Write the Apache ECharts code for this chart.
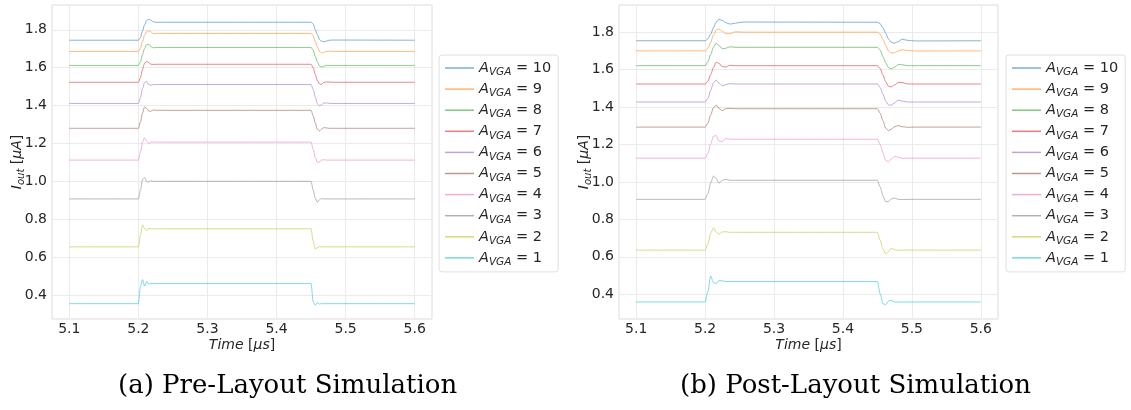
<!DOCTYPE html>
<html>
<head>
<meta charset="utf-8">
<script src="https://cdn.jsdelivr.net/npm/echarts@6/dist/echarts.min.js"></script>
<style>html,body{margin:0;padding:0;background:#fff}#c{width:1131px;height:410px}</style>
</head>
<body>
<div id="c"></div>
<script>
// ---- data ----
const gains = [10, 9, 8, 7, 6, 5, 4, 3, 2, 1];
const colors = ['#1f77b4','#ff7f0e','#2ca02c','#d62728','#9467bd','#8c564b','#e377c2','#7f7f7f','#bcbd22','#17becf'];
const xTicks = [5.1, 5.2, 5.3, 5.4, 5.5, 5.6];
const yTicks = [0.4, 0.6, 0.8, 1.0, 1.2, 1.4, 1.6, 1.8];
const captionA = '(a) Pre-Layout Simulation';
const captionB = '(b) Post-Layout Simulation';

// Pre-layout time points (µs)
const preTime = [5.1, 5.2,5.203,5.206,5.209,5.212,5.215,5.218,5.222,5.226,5.232, 5.45,5.453,5.456,5.459,5.462,5.465,5.468,5.472,5.476,5.482, 5.6];
const pre10 = [1.745, 1.745,1.759,1.793,1.826,1.848,1.855,1.851,1.842,1.839,1.840, 1.840,1.831,1.802,1.774,1.750,1.740,1.737,1.740,1.745,1.746, 1.745];
const pre9  = [1.686, 1.686,1.703,1.738,1.772,1.791,1.795,1.789,1.780,1.781,1.781, 1.781,1.770,1.738,1.710,1.686,1.678,1.680,1.686,1.687,1.686, 1.686];
const pre8  = [1.612, 1.612,1.631,1.669,1.702,1.721,1.724,1.712,1.705,1.707,1.707, 1.707,1.693,1.660,1.631,1.610,1.603,1.607,1.612,1.612,1.612, 1.612];
const pre7  = [1.523, 1.523,1.547,1.590,1.623,1.633,1.628,1.618,1.617,1.618,1.618, 1.618,1.599,1.566,1.533,1.515,1.512,1.521,1.525,1.524,1.523, 1.523];
const pre6  = [1.411, 1.411,1.441,1.491,1.521,1.528,1.511,1.507,1.511,1.511,1.511, 1.511,1.486,1.446,1.411,1.399,1.403,1.413,1.414,1.412,1.411, 1.411];
const pre5  = [1.280, 1.280,1.313,1.361,1.393,1.385,1.371,1.370,1.377,1.375,1.375, 1.375,1.347,1.309,1.275,1.266,1.275,1.283,1.282,1.280,1.280, 1.280];
const pre4  = [1.112, 1.112,1.155,1.207,1.230,1.212,1.200,1.207,1.208,1.207,1.207, 1.207,1.169,1.126,1.101,1.101,1.112,1.114,1.112,1.112,1.112, 1.112];
const pre3  = [0.907, 0.907,0.954,1.009,1.020,0.998,0.996,1.003,1.000,1.000,1.000, 1.000,0.954,0.912,0.890,0.902,0.909,0.907,0.907,0.907,0.907, 0.907];
const pre2  = [0.654, 0.654,0.716,0.770,0.751,0.741,0.751,0.750,0.749,0.749,0.749, 0.749,0.683,0.643,0.649,0.656,0.654,0.654,0.654,0.654,0.654, 0.654];
const pre1  = [0.354, 0.354,0.444,0.481,0.447,0.471,0.457,0.460,0.460,0.460,0.460, 0.460,0.365,0.346,0.359,0.352,0.354,0.354,0.354,0.354,0.354, 0.354];

// Post-layout time points (µs)
const postTime = [5.1, 5.2,5.204,5.208,5.212,5.216,5.22,5.225,5.23,5.236,5.244,5.255, 5.45,5.454,5.458,5.462,5.466,5.47,5.475,5.48,5.486,5.494,5.505, 5.6];
const post10 = [1.754, 1.754,1.764,1.789,1.823,1.853,1.868,1.863,1.851,1.843,1.848,1.854, 1.853,1.845,1.823,1.794,1.764,1.746,1.741,1.749,1.762,1.756,1.753, 1.754];
const post9  = [1.700, 1.700,1.715,1.745,1.785,1.812,1.817,1.805,1.792,1.792,1.802,1.800, 1.800,1.790,1.762,1.730,1.700,1.688,1.690,1.700,1.706,1.702,1.699, 1.700];
const post8  = [1.621, 1.621,1.641,1.680,1.719,1.741,1.729,1.711,1.714,1.722,1.719,1.719, 1.719,1.704,1.670,1.636,1.611,1.604,1.613,1.627,1.626,1.621,1.621, 1.621];
const post7  = [1.523, 1.523,1.538,1.572,1.611,1.639,1.633,1.616,1.614,1.623,1.621,1.621, 1.621,1.606,1.572,1.535,1.511,1.507,1.518,1.531,1.531,1.523,1.523, 1.523];
const post6  = [1.427, 1.427,1.446,1.489,1.528,1.544,1.528,1.513,1.520,1.525,1.523,1.523, 1.523,1.504,1.470,1.432,1.411,1.410,1.422,1.437,1.432,1.427,1.427, 1.427];
const post5  = [1.293, 1.293,1.313,1.357,1.396,1.411,1.393,1.381,1.391,1.393,1.391,1.391, 1.391,1.367,1.327,1.288,1.274,1.281,1.295,1.301,1.295,1.292,1.293, 1.293];
const post4  = [1.127, 1.127,1.152,1.203,1.243,1.248,1.218,1.216,1.231,1.229,1.228,1.228, 1.228,1.198,1.157,1.115,1.107,1.122,1.137,1.132,1.126,1.127,1.127, 1.127];
const post3  = [0.907, 0.907,0.938,0.994,1.031,1.019,0.994,1.009,1.014,1.009,1.009,1.009, 1.009,0.973,0.927,0.895,0.895,0.909,0.914,0.907,0.906,0.907,0.907, 0.907];
const post2  = [0.636, 0.636,0.669,0.726,0.755,0.733,0.720,0.733,0.734,0.731,0.731,0.731, 0.731,0.688,0.641,0.615,0.627,0.646,0.639,0.635,0.636,0.636,0.636, 0.636];
const post1  = [0.359, 0.359,0.414,0.497,0.463,0.457,0.473,0.472,0.468,0.468,0.468,0.468, 0.468,0.403,0.350,0.344,0.364,0.368,0.359,0.358,0.359,0.359,0.359, 0.359];

const preSeries  = [pre10, pre9, pre8, pre7, pre6, pre5, pre4, pre3, pre2, pre1];
const postSeries = [post10, post9, post8, post7, post6, post5, post4, post3, post2, post1];

// ---- chart ----
const TXT = '#262626';
const FONT = 'DejaVu Sans';
const names = gains.map(g => 'A' + g);

function zip(t, v) { return t.map((x, i) => [x, v[i]]); }

function mkSeries(arrs, time, idx) {
  return arrs.map((v, i) => ({
    type: 'line', name: names[i], xAxisIndex: idx, yAxisIndex: idx,
    data: zip(time, v), symbol: 'none', smooth: 0.3, smoothMonotone: 'x',
    lineStyle: { width: 1, color: colors[i], opacity: 0.55 },
    itemStyle: { color: colors[i] },
    emphasis: { disabled: true }, animation: false
  }));
}

const legendRich = {
  a: { fontFamily: FONT, fontSize: 14.5, fontStyle: 'italic', color: TXT, lineHeight: 21 },
  s: { fontFamily: FONT, fontSize: 10.5, fontStyle: 'italic', color: TXT, lineHeight: 12, padding: [9, 0, 0, 0] },
  n: { fontFamily: FONT, fontSize: 14.5, color: TXT, lineHeight: 21 }
};
function mkLegend(left) {
  return {
    orient: 'vertical', left: left, top: 55, padding: [3, 7, 4, 6],
    icon: 'rect', itemWidth: 29, itemHeight: 1.5, itemGap: 1.1, itemTextGap: 13,
    itemStyle: { opacity: 0.6 },
    borderColor: '#e0e0e0', borderWidth: 1, borderRadius: 3, backgroundColor: '#fff',
    data: names, selectedMode: false,
    formatter: n => '{a|A}{s|VGA}{n| = ' + n.slice(1) + '}',
    textStyle: { rich: legendRich }
  };
}

const nameRich = {
  i: { fontFamily: FONT, fontSize: 14, fontStyle: 'italic', color: TXT, lineHeight: 20 },
  s: { fontFamily: FONT, fontSize: 10, fontStyle: 'italic', color: TXT, lineHeight: 12, padding: [8, 0, 0, 0] },
  n: { fontFamily: FONT, fontSize: 14, color: TXT, lineHeight: 20 }
};

function mkX(idx, min, max) {
  return {
    type: 'value', gridIndex: idx, min: min, max: max,
    name: '{i|Time}{n| [}{i|μs}{n|]}', nameLocation: 'middle', nameGap: 16, nameMoveOverlap: false,
    nameTextStyle: { rich: nameRich },
    axisLine: { show: false }, axisTick: { show: false, customValues: xTicks },
    axisLabel: { customValues: xTicks, formatter: v => v.toFixed(1), color: TXT, fontFamily: FONT, fontSize: 14, margin: 3 },
    splitLine: { show: true, lineStyle: { color: '#ebebeb', width: 1 } }
  };
}
function mkY(idx, min, max) {
  return {
    type: 'value', gridIndex: idx, min: min, max: max,
    name: '{i|I}{s|out}{n| [}{i|μA}{n|]}', nameLocation: 'middle', nameGap: 25, nameRotate: 90, nameMoveOverlap: false,
    nameTextStyle: { rich: nameRich },
    axisLine: { show: false }, axisTick: { show: false, customValues: yTicks },
    axisLabel: { customValues: yTicks, formatter: v => v.toFixed(1), color: TXT, fontFamily: FONT, fontSize: 14, margin: 5 },
    splitLine: { show: true, lineStyle: { color: '#ebebeb', width: 1 } }
  };
}

const chart = echarts.init(document.getElementById('c'), null, { renderer: 'canvas' });
chart.setOption({
  backgroundColor: '#fff',
  animation: false,
  grid: [
    { left: 52, top: 5, width: 380, height: 314, show: true, borderColor: '#dcdcdc', borderWidth: 1, backgroundColor: 'transparent' },
    { left: 619, top: 5, width: 379, height: 314, show: true, borderColor: '#dcdcdc', borderWidth: 1, backgroundColor: 'transparent' }
  ],
  xAxis: [mkX(0, 5.075, 5.625), mkX(1, 5.075, 5.625)],
  yAxis: [mkY(0, 0.273, 1.931), mkY(1, 0.268, 1.945)],
  legend: [mkLegend(439), mkLegend(1006)],
  series: mkSeries(preSeries, preTime, 0).concat(mkSeries(postSeries, postTime, 1)),
  graphic: [
    { type: 'text', left: 118, top: 373, style: { text: captionA, font: '26px "DejaVu Serif"', fill: '#000' } },
    { type: 'text', left: 680, top: 373, style: { text: captionB, font: '26px "DejaVu Serif"', fill: '#000' } }
  ]
});
</script>
</body>
</html>
